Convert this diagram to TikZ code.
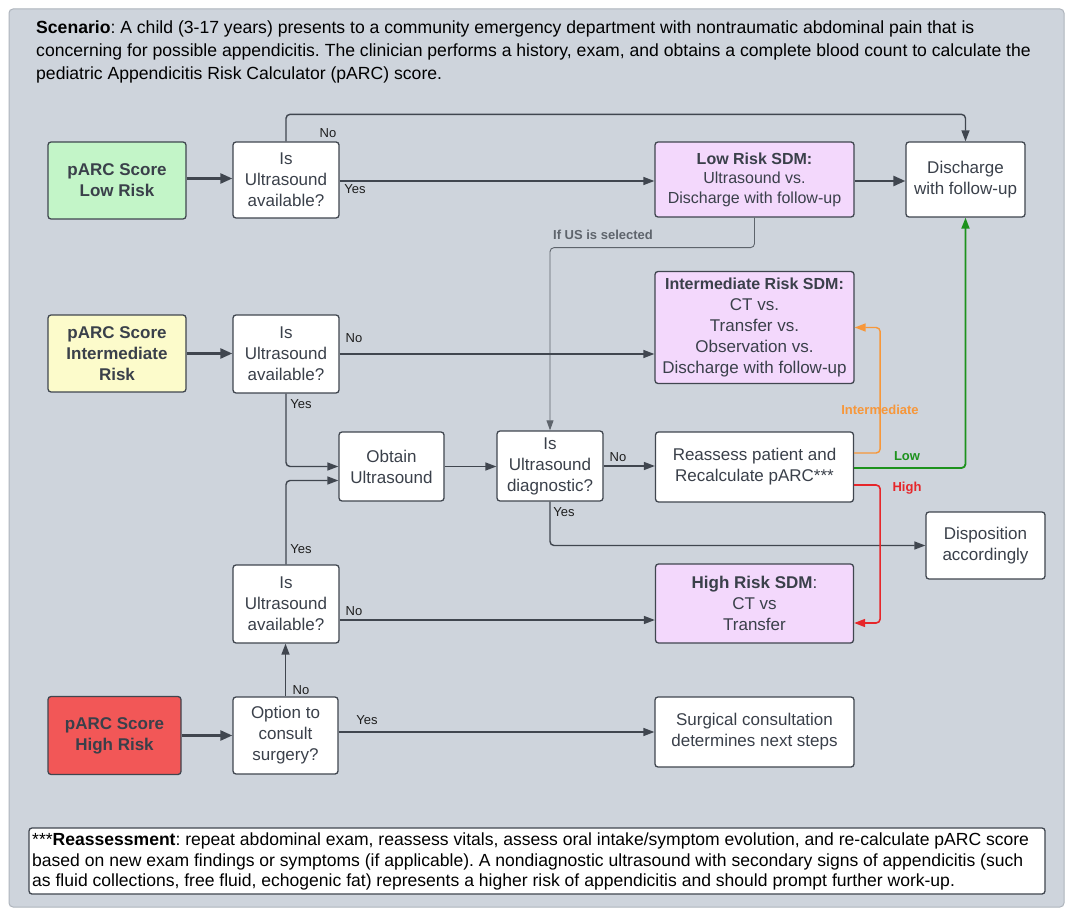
\documentclass[tikz,border=0pt]{standalone}
\usepackage{fontspec}
\setmainfont{Liberation Sans}
\usetikzlibrary{arrows.meta}
\frenchspacing
\definecolor{panel}{HTML}{CED4DC}
\definecolor{panelborder}{HTML}{AEB4BC}
\definecolor{ink}{HTML}{40464F}
\definecolor{boxtext}{HTML}{3A404A}
\definecolor{lbl}{HTML}{1E1E1E}
\definecolor{thinline}{HTML}{5E646C}
\definecolor{lowfill}{HTML}{C3F5C8}
\definecolor{intfill}{HTML}{FCFBCB}
\definecolor{highfill}{HTML}{F25757}
\definecolor{sdmfill}{HTML}{F3D8FC}
\definecolor{orangec}{HTML}{F7973A}
\definecolor{greenc}{HTML}{1D921D}
\definecolor{redc}{HTML}{E6262A}
\tikzset{
  box/.style={draw=ink, line width=1.3pt, rounded corners=3pt, fill=white, text=boxtext,
    align=center, inner sep=0pt, font=\fontsize{17}{21}\selectfont},
  score/.style={box, font=\bfseries\fontsize{17}{21}\selectfont},
  conn/.style={draw=ink, line width=1.4pt, rounded corners=4pt, -{Triangle[length=11pt,width=8pt]}},
  thickconn/.style={draw=ink, line width=2.4pt, -{Triangle[length=12pt,width=10pt]}},
  thinconn/.style={draw=thinline, line width=0.9pt, rounded corners=4pt, -{Triangle[length=10pt,width=7pt]}},
  lab/.style={text=lbl, font=\fontsize{13}{15}\selectfont, inner sep=0pt},
  blab/.style={font=\bfseries\fontsize{13}{15}\selectfont, inner sep=0pt},
}
\begin{document}
\begin{tikzpicture}[x=1pt,y=-1pt]
\useasboundingbox (0,0) rectangle (1077,917);
\fill[white] (0,0) rectangle (1077,917);
\draw[draw=panelborder, fill=panel, line width=1pt, rounded corners=4pt] (9,9) rectangle (1064,907);

\node[anchor=north west, align=left, inner sep=0pt, text=black, font=\fontsize{17.6}{23}\selectfont] (scen) at (36,21)
 {\textbf{Scenario}: A child (3-17 years) presents to a community emergency department with nontraumatic abdominal pain that is\\
 concerning for possible appendicitis. The clinician performs a history, exam, and obtains a complete blood count to calculate the\\
 pediatric Appendicitis Risk Calculator (pARC) score.};

% nodes
\node[score, fill=lowfill, minimum width=138pt, minimum height=77pt] (low) at (117,180.5) {pARC Score\\Low Risk};
\node[box, minimum width=106pt, minimum height=76pt] (q1) at (286,180) {Is\\Ultrasound\\available?};
\node[box, fill=sdmfill, minimum width=199pt, minimum height=75pt, font=\fontsize{16}{19.5}\selectfont] (lsdm) at (754.5,179.5) {\textbf{Low Risk SDM:}\\Ultrasound vs.\\Discharge with follow-up};
\node[box, minimum width=119pt, minimum height=75pt] (dis) at (965.5,179.5) {Discharge\\with follow-up};

\node[score, fill=intfill, minimum width=138pt, minimum height=77pt] (int) at (117,353.5) {pARC Score\\Intermediate\\Risk};
\node[box, minimum width=106pt, minimum height=78pt] (q2) at (286,354) {Is\\Ultrasound\\available?};
\node[box, fill=sdmfill, minimum width=199pt, minimum height=112pt] (isdm) at (754.5,327.5) {\textbf{\fontsize{16}{21}\selectfont Intermediate Risk SDM:}\\CT vs.\\Transfer vs.\\Observation vs.\\Discharge with follow-up};

\node[box, minimum width=105pt, minimum height=69pt] (obt) at (391.5,466.5) {Obtain\\Ultrasound};
\node[box, minimum width=106pt, minimum height=70pt] (diag) at (550,466) {Is\\Ultrasound\\diagnostic?};
\node[box, minimum width=198pt, minimum height=70pt] (reas) at (754.5,467) {Reassess patient and\\Recalculate pARC***};
\node[box, minimum width=119pt, minimum height=67pt] (disp) at (985.5,545.5) {Disposition\\accordingly};

\node[box, fill=sdmfill, minimum width=198pt, minimum height=79pt] (hsdm) at (754.5,603.5) {\textbf{High Risk SDM}:\\CT vs\\Transfer};
\node[box, minimum width=106pt, minimum height=78pt] (q3) at (286,604) {Is\\Ultrasound\\available?};

\node[score, fill=highfill, minimum width=133pt, minimum height=78pt] (high) at (114.5,735.5) {pARC Score\\High Risk};
\node[box, minimum width=105pt, minimum height=77pt] (opt) at (285.5,735.5) {Option to\\consult\\surgery?};
\node[box, minimum width=199pt, minimum height=70pt] (surg) at (754.5,732) {Surgical consultation\\determines next steps};

\node[draw=ink, line width=1.3pt, rounded corners=3pt, fill=white, minimum width=1016pt, minimum height=66pt,
      inner sep=0pt] (foot) at (537,861) {};
\node[anchor=north west, align=left, inner sep=0pt, text=black, font=\fontsize{17.55}{20.5}\selectfont] (foottext) at (32,833)
 {***\textbf{Reassessment}: repeat abdominal exam, reassess vitals, assess oral intake/symptom evolution, and re-calculate pARC score\\
 based on new exam findings or symptoms (if applicable). A nondiagnostic ultrasound with secondary signs of appendicitis (such\\
 as fluid collections, free fluid, echogenic fat) represents a higher risk of appendicitis and should prompt further work-up.};

% connectors
\draw[thickconn] ([yshift=2pt]low.east) -- ([yshift=2pt]low.east -| q1.west);
\draw[conn] (q1.north) -- ++(0,-27) -| (dis.north);
\node[lab] (l1) at (328,133) {No};
\draw[conn] ([yshift=-1pt]q1.east) -- ([yshift=-1pt]q1.east -| lsdm.west);
\node[lab] (l2) at (355,189) {Yes};
\draw[thickconn] ([yshift=-1.5pt]lsdm.east) -- ([yshift=-1.5pt]lsdm.east -| dis.west);
\draw[thinconn] (lsdm.south) -- ++(0,30) -| (diag.north);
\node[blab, text=thinline] (l3) at (603,235) {If US is selected};

\draw[thickconn] (int.east) -- (int.east -| q2.west);
\draw[conn] (q2.east) -- (q2.east -| isdm.west);
\node[lab] (l4) at (354,338) {No};
\draw[conn] (q2.south) |- (obt.west);
\node[lab] (l5) at (301,404) {Yes};
\draw[conn] (q3.north) |- ([yshift=-14pt]obt.west);
\node[lab] (l6) at (301,549) {Yes};

\draw[conn] (obt.east) -- (obt.east -| diag.west);
\draw[conn] (diag.east) -- (diag.east -| reas.west);
\node[lab] (l7) at (618,457) {No};
\draw[conn] (diag.south) |- (disp.west);
\node[lab] (l8) at (564,512) {Yes};

\draw[conn, draw=orangec, -{Triangle[length=11pt,width=8pt]}] ([yshift=14pt]reas.east) -- ++(26,0) |- (isdm.east);
\node[blab, text=orangec] (l9) at (880,410) {Intermediate};
\draw[conn, draw=greenc, line width=1.8pt] ([yshift=-1pt]reas.east) -| (dis.south);
\node[blab, text=greenc] (l10) at (907,456) {Low};
\draw[conn, draw=redc, line width=1.6pt] ([yshift=-18pt]reas.east) -- ++(26,0) |- ([yshift=-19.5pt]hsdm.east);
\node[blab, text=redc] (l11) at (907,488) {High};

\draw[conn] ([yshift=-16pt]q3.east) -- ([yshift=-16pt]q3.east -| hsdm.west);
\node[lab] (l12) at (354,611) {No};
\draw[conn] (opt.north) -- (opt.north |- q3.south);
\node[lab] (l13) at (301,690) {No};
\draw[thickconn] (high.east) -- (high.east -| opt.west);
\draw[conn] (opt.east |- surg.west) -- (surg.west);
\node[lab] (l14) at (367,720) {Yes};
\end{tikzpicture}
\end{document}
